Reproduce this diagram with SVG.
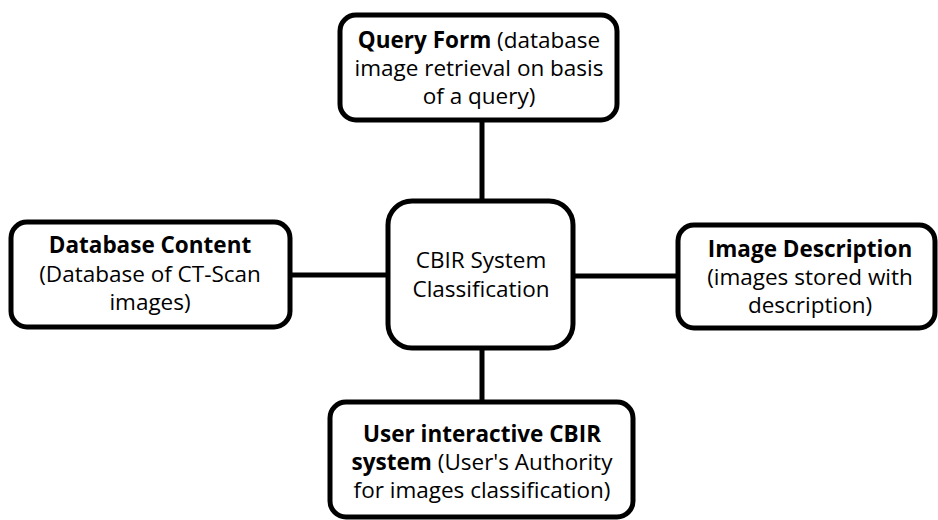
<svg xmlns="http://www.w3.org/2000/svg" width="938" height="520" viewBox="0 0 938 520">
<style>
.box{fill:#fff;stroke:#000;stroke-width:5}
.con{stroke:#000;stroke-width:5;fill:none}
text{font-family:"Open Sans","Liberation Sans",Arial,sans-serif;font-size:22.5px;fill:#000;text-anchor:middle}
.b{font-weight:bold}
</style>
<rect width="938" height="520" fill="#fff"/>
<g id="connectors">
<line class="con" x1="482" y1="120" x2="482" y2="201"/>
<line class="con" x1="290" y1="275" x2="388" y2="275"/>
<line class="con" x1="573" y1="276" x2="678" y2="276"/>
<line class="con" x1="482" y1="348" x2="482" y2="402"/>
</g>
<g id="center">
<rect class="box" x="388" y="201" width="185" height="147" rx="24"/>
<text x="481" y="268">CBIR System</text>
<text x="481" y="297">Classification</text>
</g>
<g id="query">
<rect class="box" x="340" y="15" width="277" height="105" rx="16"/>
<text x="479" y="48"><tspan class="b">Query Form</tspan> (database</text>
<text x="479" y="76">image retrieval on basis</text>
<text x="479" y="104">of a query)</text>
</g>
<g id="database">
<rect class="box" x="11" y="222" width="279" height="105" rx="16"/>
<text x="150" y="253" class="b">Database Content</text>
<text x="150" y="282">(Database of CT-Scan</text>
<text x="150" y="310">images)</text>
</g>
<g id="description">
<rect class="box" x="678" y="225" width="257" height="103" rx="16"/>
<text x="810" y="257" class="b">Image Description</text>
<text x="810" y="285">(images stored with</text>
<text x="810" y="313">description)</text>
</g>
<g id="user">
<rect class="box" x="330" y="402" width="303" height="115" rx="16"/>
<text x="482" y="442" class="b">User interactive CBIR</text>
<text x="482" y="470"><tspan class="b">system</tspan> (User's Authority</text>
<text x="482" y="498">for images classification)</text>
</g>
</svg>
